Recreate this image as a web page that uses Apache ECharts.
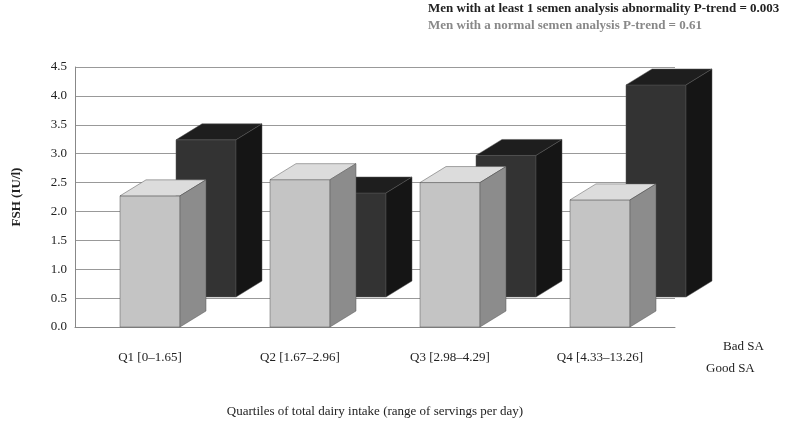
<!DOCTYPE html>
<html>
<head>
<meta charset="utf-8">
<script src="https://cdn.jsdelivr.net/npm/echarts@6/dist/echarts.min.js"></script>
<style>html,body{margin:0;background:#fff}#main{width:799px;height:425px}</style>
</head>
<body>
<div id="main"></div>
<script>
var categories = ['Q1 [0\u20131.65]', 'Q2 [1.67\u20132.96]', 'Q3 [2.98\u20134.29]', 'Q4 [4.33\u201313.26]'];
var goodSA = [2.27, 2.55, 2.5, 2.2];
var badSA = [2.72, 1.8, 2.45, 3.67];
var yTicks = [0, 4.5, 0.5];

var chart = echarts.init(document.getElementById('main'));
var serif = 'Liberation Serif';

// pseudo 3d box: front face, top, side
function box(dx, dy, front, top, side) {
  return function (params, api) {
    var i = api.value(0);
    var p = api.coord([i, api.value(1)]);
    var b = api.coord([i, 0]);
    var w = api.size([1, 0])[0] * 0.4;
    var x0 = p[0] - w / 2 + dx, x1 = x0 + w;
    var yt = p[1] + dy, yb = b[1] + dy;
    var ox = 26, oy = 16;
    return {
      type: 'group',
      children: [
        { type: 'rect', shape: { x: x0, y: yt, width: w, height: yb - yt }, style: { fill: front, stroke: '#555', lineWidth: 0.5 } },
        { type: 'polygon', shape: { points: [[x0, yt], [x0 + ox, yt - oy], [x1 + ox, yt - oy], [x1, yt]] }, style: { fill: top, stroke: '#555', lineWidth: 0.5 } },
        { type: 'polygon', shape: { points: [[x1, yt], [x1 + ox, yt - oy], [x1 + ox, yb - oy], [x1, yb]] }, style: { fill: side, stroke: '#555', lineWidth: 0.5 } }
      ]
    };
  };
}

var option = {
  animation: false,
  grid: { left: 75, right: 124, top: 67, bottom: 98 },
  graphic: [
    { type: 'text', left: 428, top: 2, style: { text: 'Men with at least 1 semen analysis abnormality P-trend = 0.003', font: 'bold 13px ' + serif, fill: '#222' } },
    { type: 'text', left: 428, top: 19, style: { text: 'Men with a normal semen analysis P-trend = 0.61', font: 'bold 13px ' + serif, fill: '#888' } },
    { type: 'text', left: 723, top: 340, style: { text: 'Bad SA', font: '13px ' + serif, fill: '#222' } },
    { type: 'text', left: 706, top: 362, style: { text: 'Good SA', font: '13px ' + serif, fill: '#222' } }
  ],
  xAxis: {
    type: 'category',
    data: categories,
    axisTick: { show: false },
    axisLine: { lineStyle: { color: '#888' } },
    axisLabel: { fontFamily: serif, fontSize: 13, color: '#222', margin: 24 },
    name: 'Quartiles of total dairy intake (range of servings per day)',
    nameLocation: 'middle',
    nameGap: 78,
    nameTextStyle: { fontFamily: serif, fontSize: 13, color: '#222' }
  },
  yAxis: {
    type: 'value',
    min: yTicks[0], max: yTicks[1], interval: yTicks[2],
    axisLine: { show: true, lineStyle: { color: '#888' } },
    axisLabel: { fontFamily: serif, fontSize: 13, color: '#222', formatter: function (v) { return v.toFixed(1); } },
    splitLine: { lineStyle: { color: '#999' } },
    name: 'FSH (IU/l)',
    nameLocation: 'middle',
    nameGap: 52,
    nameTextStyle: { fontFamily: serif, fontSize: 13, fontWeight: 'bold', color: '#222' }
  },
  series: [
    { type: 'custom', name: 'Bad SA', renderItem: box(56, -30, '#333', '#1e1e1e', '#151515'),
      data: badSA.map(function (v, i) { return [i, v]; }), encode: { x: 0, y: 1 } },
    { type: 'custom', name: 'Good SA', renderItem: box(0, 0, '#c4c4c4', '#dcdcdc', '#8c8c8c'),
      data: goodSA.map(function (v, i) { return [i, v]; }), encode: { x: 0, y: 1 } }
  ]
};
chart.setOption(option);
</script>
</body>
</html>
